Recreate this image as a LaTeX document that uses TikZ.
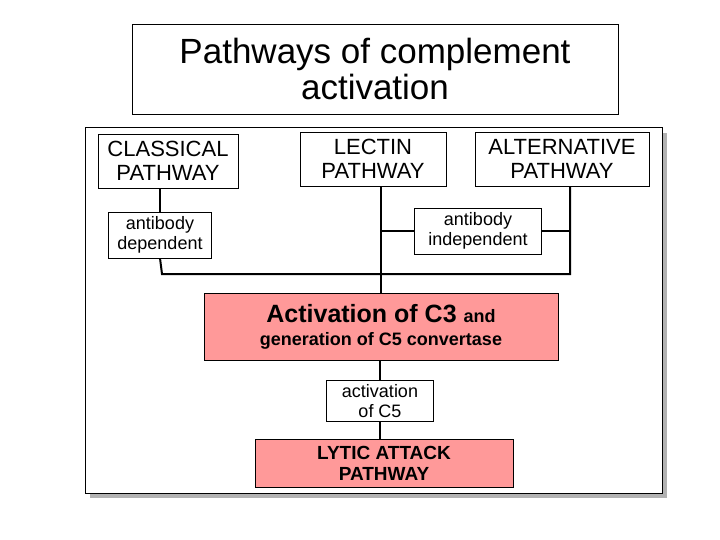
\documentclass[tikz,border=0pt]{standalone}
\usepackage{fontspec}
\setmainfont{Liberation Sans}
\begin{document}
\begin{tikzpicture}[x=1pt,y=-1pt,
  box/.style={draw=black,fill=white,inner sep=0pt,align=center,font=\fontsize{22}{24}\selectfont},
  small/.style={box,font=\fontsize{18}{20}\selectfont},
  pink/.style={draw=black,fill=red!40,inner sep=0pt,align=center},
  wire/.style={line width=2pt}]
\useasboundingbox (0,0) rectangle (720,540);
% title and frame
\node[draw=black,minimum width=486,minimum height=90,align=center,
  font=\fontsize{35}{36}\selectfont,name=title] at (375,69) {Pathways of complement\\activation};
\fill[gray!60] (90,133) rectangle (667,498);
\draw[fill=white,line width=1pt] (85,128) rectangle (662,493);
% pathways
\node[box,minimum width=140,minimum height=54,name=classical] at (168,161) {CLASSICAL\\PATHWAY};
\node[box,minimum width=146,minimum height=54,name=lectin] at (373,159) {LECTIN\\PATHWAY};
\node[box,minimum width=174,minimum height=54,name=alternative] at (562,159) {ALTERNATIVE\\PATHWAY};
\node[small,minimum width=103,minimum height=46,name=dep] at (160,235) {antibody\\dependent};
\node[small,minimum width=127,minimum height=46,name=indep] at (478,231) {antibody\\independent};
\node[pink,minimum width=354,minimum height=67,name=c3] at (381,327)
  {\fontsize{25}{30}\selectfont\bfseries Activation of C3 {\fontsize{18}{20}\selectfont and}\\[9pt]
   \fontsize{18}{20}\selectfont\bfseries generation of C5 convertase};
\node[small,minimum width=107,minimum height=41,name=c5] at (380,401) {activation\\of C5};
\node[pink,minimum width=258,minimum height=48,font=\fontsize{19}{21}\selectfont\bfseries,name=lytic] at (384,463) {LYTIC ATTACK\\PATHWAY};
% connectors
\coordinate (jl) at (162,274);
\coordinate (jr) at (570,274);
\draw[wire] (classical.south -| dep) -- (dep.north);
\draw[wire] (dep.south) -- (jl) -- (jr) -- (alternative.south -| jr);
\draw[wire] (lectin.south -| c3) -- (c3.north);
\draw[wire] (indep.west) -- (indep.west -| c3);
\draw[wire] (indep.east) -- (indep.east -| jr);
\draw[wire] (c3.south -| c5) -- (c5.north);
\draw[wire] (c5.south) -- (lytic.north -| c5);
\end{tikzpicture}
\end{document}
